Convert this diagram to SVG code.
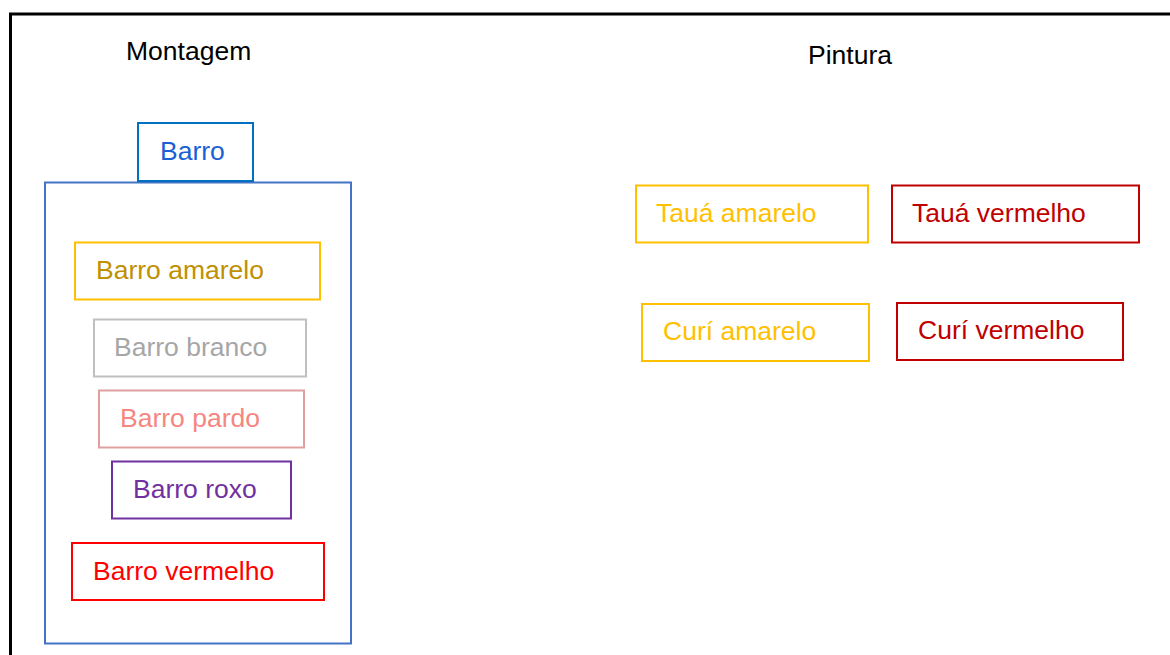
<svg xmlns="http://www.w3.org/2000/svg" width="1170" height="655" viewBox="0 0 1170 655">
<style>
text{font-family:"Liberation Sans",Arial,sans-serif;font-size:26.5px}
rect{fill:none;stroke-width:2}
</style>
<rect x="0" y="0" width="1170" height="655" style="fill:#fff;stroke:none"/>
<path d="M10.5,660 V14 H1175" fill="none" stroke="#000" stroke-width="3"/>
<text x="126" y="60" fill="#000">Montagem</text>
<text x="808" y="64" fill="#000">Pintura</text>
<g id="container"><rect x="45" y="182.5" width="306" height="461" stroke="#4472C4"/></g>
<g id="barro"><rect x="138" y="123" width="115" height="58" stroke="#0070C0"/><text x="160" y="160" fill="#1A5FD6">Barro</text></g>
<g id="barro-amarelo"><rect x="75" y="242.5" width="245" height="57" stroke="#FFC000"/><text x="96" y="279" fill="#BF9000">Barro amarelo</text></g>
<g id="barro-branco"><rect x="94" y="319.5" width="212" height="57" stroke="#BFBFBF"/><text x="114" y="356" fill="#A6A6A6">Barro branco</text></g>
<g id="barro-pardo"><rect x="99" y="390.5" width="205" height="57" stroke="#E0A0A0"/><text x="120" y="427" fill="#F4877F">Barro pardo</text></g>
<g id="barro-roxo"><rect x="112" y="461.5" width="179" height="57" stroke="#7030A0"/><text x="133" y="498" fill="#7030A0">Barro roxo</text></g>
<g id="barro-vermelho"><rect x="72" y="543" width="252" height="57" stroke="#FF0000"/><text x="93" y="580" fill="#FF0000">Barro vermelho</text></g>
<g id="taua-amarelo"><rect x="636" y="185.5" width="232" height="57" stroke="#FFC000"/><text x="656" y="222" fill="#FFC000">Tauá amarelo</text></g>
<g id="taua-vermelho"><rect x="892" y="185.5" width="247" height="57" stroke="#C00000"/><text x="912" y="222" fill="#C00000">Tauá vermelho</text></g>
<g id="curi-amarelo"><rect x="642" y="304" width="227" height="57" stroke="#FFC000"/><text x="663" y="340" fill="#FFC000">Curí amarelo</text></g>
<g id="curi-vermelho"><rect x="897" y="303" width="226" height="57" stroke="#C00000"/><text x="918" y="339" fill="#C00000">Curí vermelho</text></g>
<g id="connectors"/>
</svg>
